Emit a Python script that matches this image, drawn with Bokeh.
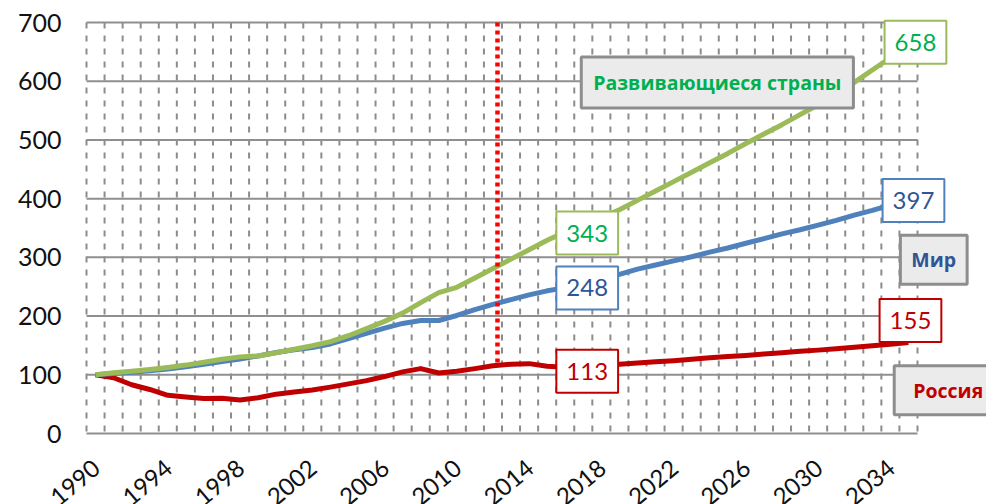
import math
import numpy as np
from bokeh.plotting import figure
from bokeh.models import Label, Range1d
from bokeh.embed import file_html
from bokeh.resources import INLINE

# ---------------- data ----------------
years = list(range(1990, 2036))

russia = [100, 95, 83, 75, 65, 62, 59.5, 60, 57, 61,
          67, 70.5, 74, 79, 84.5, 90, 97, 105, 110.5, 103,
          106, 110.5, 115.5, 118, 119, 114.5, 113, 114.5, 116, 118,
          120, 122, 124, 126.5, 129, 131, 133, 135.5, 137.5, 140,
          142, 144.5, 147, 149.5, 152, 155]

world = [100, 102, 104.5, 107, 110, 113.5, 118, 122.5, 127, 132,
         138, 142.5, 146.5, 152.5, 161.5, 170.5, 179.5, 187.5, 192.5, 192.5,
         201, 211, 220, 228, 236, 243, 248, 256, 263, 271,
         280, 287, 294, 301, 309, 316, 324, 332, 340, 347,
         355, 363, 372, 380, 389, 397]

developing = [100, 103.5, 106, 109, 112.5, 116.5, 121.5, 126.5, 130.5, 132,
              137.5, 143.5, 149.5, 156.5, 166.5, 178.5, 191, 205, 223, 240,
              249, 265, 281, 297, 313, 329, 343, 356, 368, 381,
              397, 413, 429, 445, 461, 477, 494, 510, 526, 543,
              560, 578, 598, 619, 640, 658]

x_tick_years = [1990, 1994, 1998, 2002, 2006, 2010, 2014, 2018, 2022, 2026, 2030, 2034]
y_ticks = [0, 100, 200, 300, 400, 500, 600, 700]
label_years = [2016, 2035]
forecast_year = 2012.25

series_names = ["Развивающиеся страны", "Мир", "Россия"]

# ---------------- layout (pixels) ----------------
W, H = 986, 504
PL, PR, PT, PB = 86, 917, 22, 433          # chart area inside the canvas

gx0, gx1 = years[0] - 0.5, years[-1] + 0.5
gy0, gy1 = y_ticks[0], y_ticks[-1]
ppx = (PR - PL) / (gx1 - gx0)
ppy = (PB - PT) / (gy1 - gy0)

p = figure(width=W, height=H,
           x_range=Range1d(gx0 - PL / ppx, gx1 + (W - PR) / ppx),
           y_range=Range1d(gy0 - (H - PB) / ppy, gy1 + PT / ppy),
           x_axis_type=None, y_axis_type=None,
           output_backend="svg", toolbar_location=None, min_border=0)
p.outline_line_color = None
p.background_fill_color = "white"
p.border_fill_color = "white"
p.grid.visible = False

# grid
boundaries = [y - 0.5 for y in years] + [years[-1] + 0.5]
p.segment(x0=boundaries, y0=[gy1] * len(boundaries), x1=boundaries, y1=[gy0] * len(boundaries),
          line_color="#8c8c8c", line_width=2, line_dash="6 7")
p.segment(x0=[gx0] * len(y_ticks), y0=y_ticks, x1=[gx1] * len(y_ticks), y1=y_ticks,
          line_color="#8f8f8f", line_width=2)

# y tick labels
p.text(x=[gx0] * len(y_ticks), y=y_ticks, text=[str(t) for t in y_ticks],
       x_offset=-25, text_align="right", text_baseline="middle",
       text_font={"value": "Lato"}, text_font_size="25px", text_color="#111111")

# x tick labels (rotated)
p.text(x=x_tick_years, y=[gy0] * len(x_tick_years), text=[str(t) for t in x_tick_years],
       angle=math.radians(40), x_offset=1, y_offset=31,
       text_align="right", text_baseline="middle",
       text_font={"value": "Lato"}, text_font_size="24px", text_color="#111111")

# lines
p.line(years, russia, line_width=5, line_color="#c00000", line_join="round")
p.line(years, world, line_width=5, line_color="#4f81bd", line_join="round")
p.line(years, developing, line_width=5, line_color="#9bbb59", line_join="round")

# forecast divider
y_bottom = float(np.interp(forecast_year, years, russia))
p.segment(x0=[forecast_year], y0=[gy1], x1=[forecast_year], y1=[y_bottom],
          line_color="#ff0000", line_width=4.5, line_dash="4 4")

# value labels
styles = [
    (developing, "#00b050", "#9bbb59", {2016: (22, -1), 2035: (7, 5)}),
    (world, "#2f5597", "#4f81bd", {2016: (22, 0), 2035: (5, 0)}),
    (russia, "#c00000", "#c00000", {2016: (22, -4), 2035: (2, 22)}),
]
for data, tcol, bcol, offs in styles:
    for yr in label_years:
        v = data[years.index(yr)]
        dx, dy = offs[yr]
        p.add_layout(Label(x=yr, y=v, text=f"{v:g}", x_offset=dx, y_offset=dy,
                           text_align="center", text_baseline="middle",
                           text_font="Lato", text_font_size="24px", text_color=tcol,
                           background_fill_color="white", background_fill_alpha=1.0,
                           border_line_color=bcol, border_line_width=2, padding=(10, 13)))

# series name boxes
name_pos = [(2024.42, 598, "#00b050", (12, 12)),
            (2036.4, 296, "#2f5597", (11, 11)),
            (2037.2, 73.6, "#c00000", (19, 11))]
for name, (nx, ny, col, pad) in zip(series_names, name_pos):
    p.add_layout(Label(x=nx, y=ny, text=name, text_align="center", text_baseline="middle",
                       text_font="Open Sans", text_font_size="19.5px", text_font_style="bold",
                       text_color=col, background_fill_color="#ebebeb", background_fill_alpha=1.0,
                       border_line_color="#8d8d8d", border_line_width=3, padding=pad))

open("out.html", "w").write(file_html(p, INLINE))
